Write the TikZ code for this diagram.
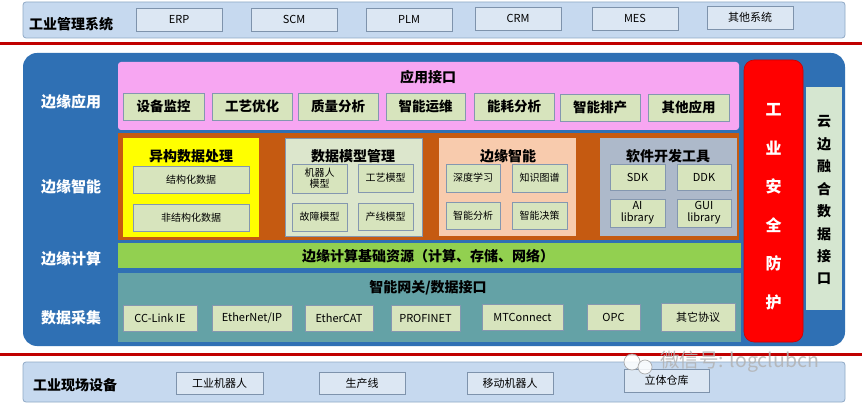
\documentclass[tikz,border=0pt]{standalone}
\usepackage{fontspec}
\setmainfont{Noto Sans CJK SC}
\definecolor{bandfill}{HTML}{C6D9EF}
\definecolor{bandedge}{HTML}{8FA9C6}
\definecolor{sboxfill}{HTML}{DCE7F3}
\definecolor{sboxedge}{HTML}{7E93AC}
\definecolor{redline}{HTML}{C00000}
\definecolor{mainblue}{HTML}{2F70B4}
\definecolor{pinkfill}{HTML}{F7A6F2}
\definecolor{greenbox}{HTML}{D7E4BD}
\definecolor{greenedge}{HTML}{8497B0}
\definecolor{orangeband}{HTML}{C55A11}
\definecolor{yellowfill}{HTML}{FFFF00}
\definecolor{modelfill}{HTML}{DCE6CC}
\definecolor{peach}{HTML}{F8CBAD}
\definecolor{greyblue}{HTML}{ADB9CA}
\definecolor{limeband}{HTML}{92D050}
\definecolor{tealband}{HTML}{64A2A6}
\definecolor{secred}{HTML}{FF0000}
\definecolor{cloudfill}{HTML}{D5E6D0}
\tikzset{
  every node/.style={inner sep=0pt, outer sep=0pt},
  band/.style={draw=bandedge, fill=bandfill, rounded corners=3pt, line width=0.8pt, anchor=north west},
  topbox/.style={draw=sboxedge, fill=sboxfill, line width=0.8pt, anchor=north west, font=\fontsize{11}{13}\selectfont},
  rowlabel/.style={font=\bfseries\fontsize{14}{16}\selectfont, text=black},
  sidelabel/.style={font=\bfseries\fontsize{15}{17}\selectfont, text=white},
  panel/.style={anchor=north west, draw=none},
  appbox/.style={draw=greenedge, fill=greenbox, line width=0.8pt, anchor=north west, font=\bfseries\fontsize{13.5}{15}\selectfont},
  smallbox/.style={draw=greenedge, fill=greenbox, line width=0.8pt, anchor=north west, font=\fontsize{10}{11}\selectfont, align=center},
  protobox/.style={draw=greenedge, fill=greenbox, line width=0.8pt, anchor=north west, font=\fontsize{11}{13}\selectfont},
  paneltitle/.style={font=\bfseries\fontsize{14}{16}\selectfont},
  redrule/.style={draw=redline, line width=3pt},
}
\begin{document}
\begin{tikzpicture}[x=1pt, y=-1pt]
\useasboundingbox (0,0) rectangle (864,403);
\fill[white] (0,0) rectangle (864,403);

% ---- top band
\node[band, minimum width=822pt, minimum height=36pt] (mgmt) at (23,2) {};
\node[rowlabel, anchor=west] (mgmtlbl) at (29,24) {工业管理系统};
\node[topbox, minimum width=86pt, minimum height=23pt] (erp) at (136,8) {ERP};
\node[topbox, minimum width=86pt, minimum height=23pt] (scm) at (251,8) {SCM};
\node[topbox, minimum width=86pt, minimum height=23pt] (plm) at (366,8) {PLM};
\node[topbox, minimum width=86pt, minimum height=23pt] (crm) at (475,7) {CRM};
\node[topbox, minimum width=86pt, minimum height=23pt] (mes) at (592,7) {MES};
\node[topbox, minimum width=86pt, minimum height=23pt] (other) at (707,6) {其他系统};

\coordinate (rl1a) at (0,44);
\coordinate (rl1b) at (862,44);
\draw[redrule] (rl1a) -- (rl1b);

% ---- main blue block
\node[panel, fill=mainblue, rounded corners=14pt, minimum width=822pt, minimum height=293pt] (main) at (23,53) {};
\node[sidelabel] (l1) at (71,102) {边缘应用};
\node[sidelabel] (l2) at (71,187) {边缘智能};
\node[sidelabel] (l3) at (71,259) {边缘计算};
\node[sidelabel] (l4) at (71,318) {数据采集};

% application layer
\node[panel, fill=pinkfill, rounded corners=3pt, minimum width=621pt, minimum height=68pt] (app) at (118,62) {};
\node[paneltitle] (apptitle) at (428,77) {应用接口};
\node[appbox, minimum width=81pt, minimum height=27pt] (a1) at (123,93) {设备监控};
\node[appbox, minimum width=80pt, minimum height=27pt] (a2) at (212,93) {工艺优化};
\node[appbox, minimum width=80pt, minimum height=27pt] (a3) at (298,93) {质量分析};
\node[appbox, minimum width=79pt, minimum height=27pt] (a4) at (386,93) {智能运维};
\node[appbox, minimum width=80pt, minimum height=27pt] (a5) at (474,93) {能耗分析};
\node[appbox, minimum width=80pt, minimum height=27pt] (a6) at (560,94) {智能排产};
\node[appbox, minimum width=81pt, minimum height=27pt] (a7) at (648,94) {其他应用};

% intelligence layer
\node[panel, fill=orangeband, minimum width=621pt, minimum height=107pt] (intel) at (118,133) {};

\node[panel, fill=yellowfill, minimum width=136pt, minimum height=99pt] (hetero) at (123,138) {};
\node[paneltitle] (heterot) at (191,156) {异构数据处理};
\node[smallbox, minimum width=116pt, minimum height=27pt] (h1) at (133,166) {结构化数据};
\node[smallbox, minimum width=116pt, minimum height=27pt] (h2) at (133,204) {非结构化数据};

\node[panel, fill=modelfill, draw=greenedge, line width=0.6pt, minimum width=137pt, minimum height=98pt] (model) at (285,138) {};
\node[paneltitle] (modelt) at (353,156) {数据模型管理};
\node[smallbox, minimum width=55pt, minimum height=29pt] (m1) at (292,164) {机器人\\模型};
\node[smallbox, minimum width=55pt, minimum height=28pt] (m2) at (358,164) {工艺模型};
\node[smallbox, minimum width=55pt, minimum height=28pt] (m3) at (292,203) {故障模型};
\node[smallbox, minimum width=55pt, minimum height=27pt] (m4) at (358,203) {产线模型};

\node[panel, fill=peach, minimum width=137pt, minimum height=98pt] (edgeai) at (439,138) {};
\node[paneltitle] (edgeait) at (508,156) {边缘智能};
\node[smallbox, minimum width=54pt, minimum height=28pt] (e1) at (446,164) {深度学习};
\node[smallbox, minimum width=55pt, minimum height=28pt] (e2) at (512,164) {知识图谱};
\node[smallbox, minimum width=54pt, minimum height=27pt] (e3) at (446,202) {智能分析};
\node[smallbox, minimum width=55pt, minimum height=27pt] (e4) at (512,202) {智能决策};

\node[panel, fill=greyblue, minimum width=137pt, minimum height=98pt] (sdk) at (600,138) {};
\node[paneltitle] (sdkt) at (668,156) {软件开发工具};
\node[smallbox, minimum width=55pt, minimum height=26pt, font=\fontsize{11}{12}\selectfont] (s1) at (610,164) {SDK};
\node[smallbox, minimum width=54pt, minimum height=26pt, font=\fontsize{11}{12}\selectfont] (s2) at (677,164) {DDK};
\node[smallbox, minimum width=55pt, minimum height=28pt, font=\fontsize{11}{12}\selectfont] (s3) at (610,199) {AI\\library};
\node[smallbox, minimum width=54pt, minimum height=28pt, font=\fontsize{11}{12}\selectfont] (s4) at (677,199) {GUI\\library};

% computing layer
\node[panel, fill=limeband, minimum width=623pt, minimum height=25pt] (compute) at (118,243) {};
\node[paneltitle] (computet) at (428,256) {边缘计算基础资源（计算、存储、网络）};

% acquisition layer
\node[panel, fill=tealband, minimum width=623pt, minimum height=69pt] (acq) at (118,273) {};
\node[paneltitle] (acqt) at (428,288) {智能网关/数据接口};
\node[protobox, minimum width=74pt, minimum height=26pt] (p1) at (123,305) {CC-Link IE};
\node[protobox, minimum width=80pt, minimum height=26pt] (p2) at (212,305) {EtherNet/IP};
\node[protobox, minimum width=68pt, minimum height=26pt] (p3) at (305,305) {EtherCAT};
\node[protobox, minimum width=69pt, minimum height=26pt] (p4) at (391,305) {PROFINET};
\node[protobox, minimum width=81pt, minimum height=26pt] (p5) at (482,304) {MTConnect};
\node[protobox, minimum width=53pt, minimum height=26pt] (p6) at (587,304) {OPC};
\node[protobox, minimum width=74pt, minimum height=28pt] (p7) at (661,303) {其它协议};

% security column
\node[panel, fill=secred, draw=red!80!black, line width=0.6pt, rounded corners=10pt, minimum width=59pt, minimum height=282pt] (sec) at (744,60) {};
\foreach \ch [count=\i from 0] in {工,业,安,全,防,护}
  \node[font=\bfseries\fontsize{16}{18}\selectfont, text=white] (sec\i) at (773.5,110+38.4*\i) {\ch};

% cloud-edge column
\node[panel, fill=cloudfill, minimum width=36pt, minimum height=223pt] (cloud) at (806,87) {};
\foreach \ch [count=\i from 0] in {云,边,融,合,数,据,接,口}
  \node[font=\bfseries\fontsize{14}{16}\selectfont, text=black] (cl\i) at (824,122+22.4*\i) {\ch};

\coordinate (rl2a) at (0,354);
\coordinate (rl2b) at (862,354);
\draw[redrule] (rl2a) -- (rl2b);

% ---- bottom band
\node[band, minimum width=822pt, minimum height=40pt] (field) at (23,362) {};
\node[rowlabel, anchor=west] (fieldlbl) at (33,385) {工业现场设备};
\node[topbox, minimum width=87pt, minimum height=22pt] (f1) at (176,372) {工业机器人};
\node[topbox, minimum width=86pt, minimum height=22pt] (f2) at (319,372) {生产线};
\node[topbox, minimum width=86pt, minimum height=22pt] (f3) at (467,372) {移动机器人};
\node[topbox, minimum width=85pt, minimum height=23pt] (f4) at (624,369) {立体仓库};

% ---- watermark
\begin{scope}[opacity=0.85]
  \fill[white] (632,362) circle (8pt);
  \draw[gray!75, line width=0.7pt] (632,362) circle (8pt);
  \fill[white] (645,367) circle (7pt);
  \draw[gray!75, line width=0.7pt] (645,367) circle (7pt);
  \node[font=\fontsize{19.5}{22}\selectfont, text=gray!60, anchor=west] (wm) at (660,362) {微信号: logclubcn};
\end{scope}
\end{tikzpicture}
\end{document}
